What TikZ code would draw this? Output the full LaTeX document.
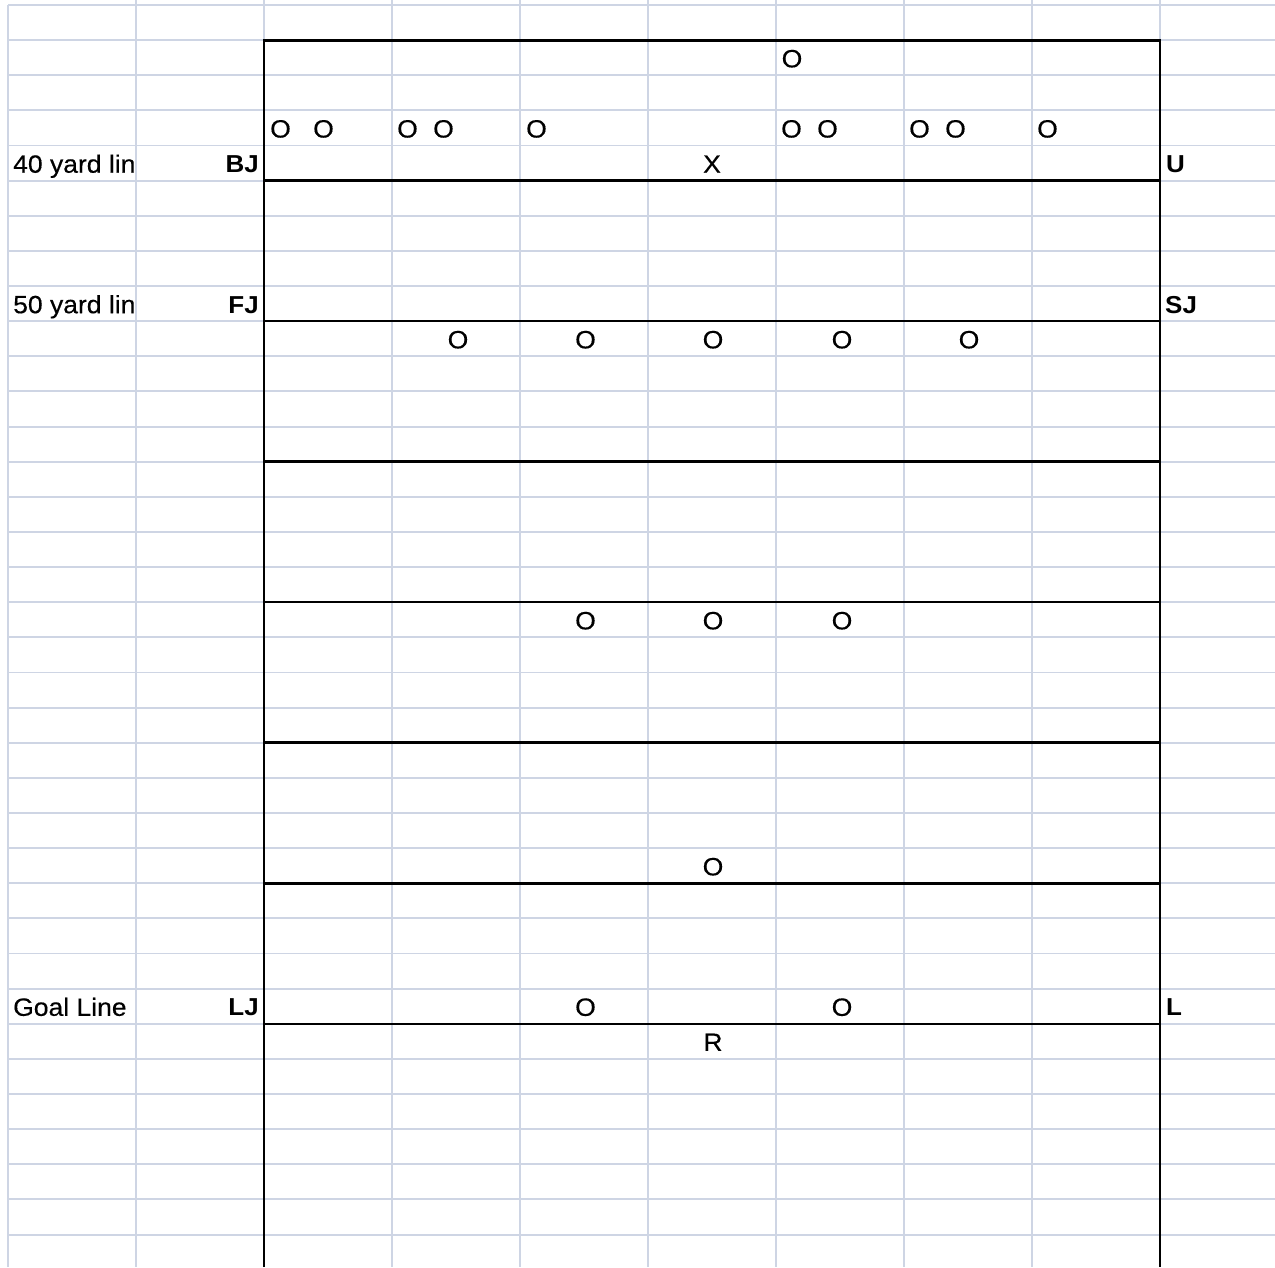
\documentclass[tikz,border=0pt]{standalone}
\usepackage{fontspec}
\setmainfont{Liberation Sans}[FakeStretch=1.06,UprightFeatures={FakeBold=0.4}]
\definecolor{gridc}{RGB}{206,213,228}
\begin{document}
\begin{tikzpicture}[x=1pt,y=-1pt,
  gridline/.style={draw=gridc,line width=1.9pt},
  field/.style={draw=black,line width=2.5pt},
  fieldv/.style={draw=black,line width=2.9pt},
  txt/.style={inner sep=0pt,anchor=base,font=\fontsize{25}{29}\selectfont},
  lefttxt/.style={txt,anchor=base west},
  lbl/.style={txt,anchor=base east,font=\fontsize{24.5}{29}\selectfont\bfseries},
  rlbl/.style={txt,anchor=base west,font=\fontsize{24.5}{29}\selectfont\bfseries}]
\useasboundingbox (0,0) rectangle (1275,1267);
\fill[white] (0,0) rectangle (1275,1267);
% spreadsheet grid
\foreach \k in {0,...,35} \draw[gridline] (8,{5+\k*35.13}) -- (1275,{5+\k*35.13});
\draw[gridline] (8,5) -- (8,1267);
\foreach \x in {136,264,392,520,648,776,904,1032,1160} \draw[gridline] (\x,0) -- (\x,1267);
% field borders
\draw[fieldv] (264,1267) -- (264,40.13) -- (1160,40.13) -- (1160,1267);
\draw[field] (264,40.13) -- (1160,40.13);
\foreach \k in {5,9,13,17,21,25,29} \draw[field] (264,{5+\k*35.13}) -- (1160,{5+\k*35.13});
% row 1
\node[txt] (o1) at (792,67.3) {O};
% row 3
\node[txt] (o3a) at (280.5,137.5) {O};
\node[txt] (o3b) at (323.5,137.5) {O};
\node[txt] (o3c) at (407.5,137.5) {O};
\node[txt] (o3d) at (443.5,137.5) {O};
\node[txt] (o3e) at (536.5,137.5) {O};
\node[txt] (o3f) at (791.5,137.5) {O};
\node[txt] (o3g) at (827.5,137.5) {O};
\node[txt] (o3h) at (919.5,137.5) {O};
\node[txt] (o3i) at (955.5,137.5) {O};
\node[txt] (o3j) at (1047.5,137.5) {O};
% row 4
\node[lefttxt] (y40) at (13,172.7) {40 yard lin};
\node[lbl] (bj) at (259,172.7) {BJ};
\node[txt] (x4) at (712,172.7) {X};
\node[rlbl] (u) at (1166,172.7) {U};
% row 8
\node[lefttxt] (y50) at (13,313.2) {50 yard lin};
\node[lbl] (fj) at (259,313.2) {FJ};
\node[rlbl] (sj) at (1165,313.2) {SJ};
% row 9
\node[txt] (o9a) at (458,348.3) {O};
\node[txt] (o9b) at (585.5,348.3) {O};
\node[txt] (o9c) at (713,348.3) {O};
\node[txt] (o9d) at (842,348.3) {O};
\node[txt] (o9e) at (969,348.3) {O};
% row 17
\node[txt] (o17a) at (585.5,629.3) {O};
\node[txt] (o17b) at (713,629.3) {O};
\node[txt] (o17c) at (842,629.3) {O};
% row 24
\node[txt] (o24) at (713,875.3) {O};
% row 28
\node[lefttxt] (goal) at (13,1015.8) {Goal Line};
\node[lbl] (lj) at (259,1015.8) {LJ};
\node[txt] (o28a) at (585.5,1015.8) {O};
\node[txt] (o28b) at (842,1015.8) {O};
\node[rlbl] (l) at (1166,1015.8) {L};
% row 29
\node[txt] (r) at (713,1050.9) {R};
\end{tikzpicture}
\end{document}
